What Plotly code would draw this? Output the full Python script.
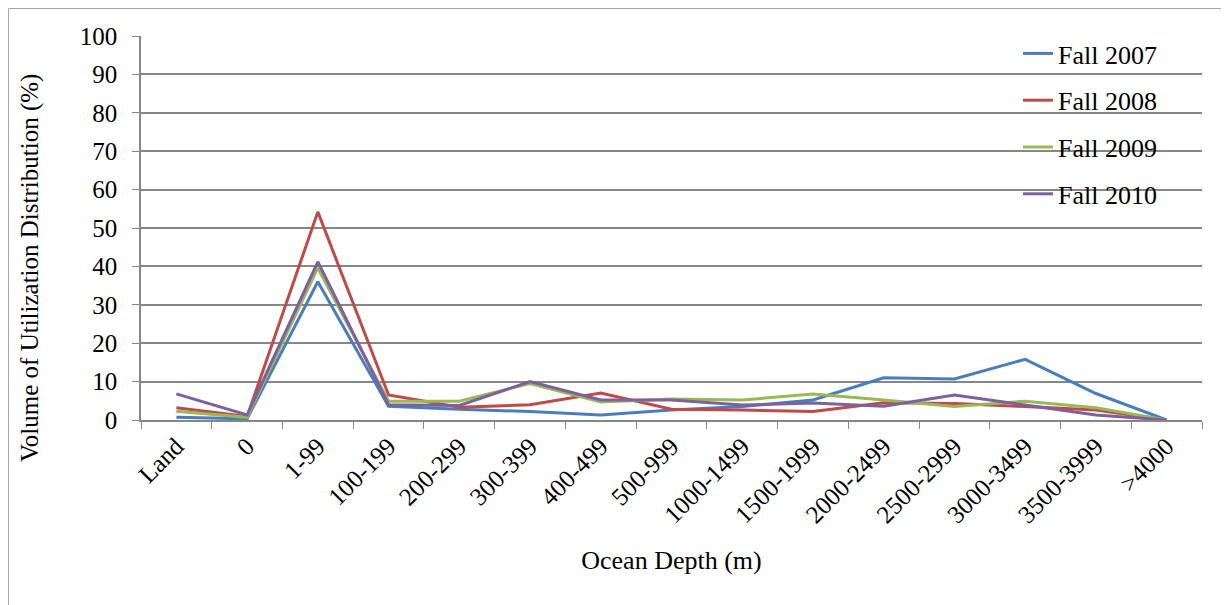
import plotly.graph_objects as go

categories = ["Land", "0", "1-99", "100-199", "200-299", "300-399", "400-499", "500-999",
              "1000-1499", "1500-1999", "2000-2499", "2500-2999", "3000-3499", "3500-3999", ">4000"]

fall_2007 = [0.7, 0.3, 36.0, 3.6, 2.8, 2.2, 1.3, 2.6, 3.5, 5.2, 11.0, 10.7, 15.8, 6.9, 0.0]
fall_2008 = [3.2, 0.9, 54.2, 6.5, 3.3, 4.0, 7.0, 2.8, 2.6, 2.2, 4.5, 4.3, 3.5, 2.6, 0.0]
fall_2009 = [2.3, 0.7, 39.6, 4.9, 4.9, 9.5, 4.7, 5.5, 5.2, 6.8, 5.2, 3.5, 4.9, 3.2, 0.0]
fall_2010 = [6.8, 1.3, 41.2, 4.0, 3.8, 10.0, 5.2, 5.2, 3.9, 4.4, 3.6, 6.5, 3.9, 1.3, 0.0]

series_names = ["Fall 2007", "Fall 2008", "Fall 2009", "Fall 2010"]
series_values = [fall_2007, fall_2008, fall_2009, fall_2010]
series_colors = ["#4A7EBB", "#BE4B48", "#98B954", "#7D60A0"]

font_family = "Liberation Serif"
grid_color = "#868686"

fig = go.Figure()
for i, (name, vals, col) in enumerate(zip(series_names, series_values, series_colors)):
    fig.add_trace(go.Scatter(
        x=categories, y=vals, mode="lines", name=name,
        line=dict(color=col, width=3),
        legendgroup=f"g{i}",
    ))

# page has an 8px body margin; target plot area in page pixels: x 141..1202, y 36..420
OFF = 8
W, H = 1229 - OFF, 605 - OFF
L, T, R, B = 141 - OFF, 36 - OFF, 1229 - 1202, 605 - 420
pw = W - L - R
ph = H - T - B

def px_x(x):  # page pixel -> paper
    return (x - OFF - L) / pw

def px_y(y):
    return (H - B - (y - OFF)) / ph

fig.add_shape(type="rect", xref="paper", yref="paper",
              x0=px_x(8.5), x1=px_x(1240), y0=px_y(620), y1=px_y(8.5),
              line=dict(color="#a6a6a6", width=1), fillcolor="rgba(0,0,0,0)", layer="below")

fig.add_annotation(text="Volume of Utilization Distribution (%)", xref="paper", yref="paper",
                   x=px_x(30), y=px_y(268), xanchor="center", yanchor="middle",
                   textangle=-90, showarrow=False,
                   font=dict(family=font_family, size=25, color="black"))

fs = 25
fig.update_layout(
    width=W, height=H,
    margin=dict(l=L, r=R, t=T, b=B, autoexpand=False),
    paper_bgcolor="white", plot_bgcolor="white",
    font=dict(family=font_family, size=fs, color="black"),
    showlegend=True,
    legend=dict(x=px_x(1018), y=px_y(30), xanchor="left", yanchor="top",
                font=dict(family=font_family, size=26, color="black"),
                tracegroupgap=10, bgcolor="rgba(0,0,0,0)"),
    xaxis=dict(
        type="category", categoryorder="array", categoryarray=categories,
        tickson="boundaries", ticks="outside", ticklen=7, tickcolor=grid_color,
        showline=True, linecolor=grid_color, linewidth=1.5,
        showgrid=False, tickangle=-45,
        tickfont=dict(family=font_family, size=fs, color="black"),
        title=dict(text="Ocean Depth (m)", font=dict(family=font_family, size=26, color="black"),
                   standoff=24),
        range=[-0.5, 14.5],
    ),
    yaxis=dict(
        range=[0, 100], dtick=10, tick0=0,
        ticks="outside", ticklen=7, tickcolor=grid_color,
        showline=True, linecolor=grid_color, linewidth=1.5,
        showgrid=True, gridcolor=grid_color, gridwidth=1.5,
        zeroline=False, ticklabelstandoff=10,
        tickfont=dict(family=font_family, size=fs, color="black"),
    ),
)

fig.write_html("out.html")
